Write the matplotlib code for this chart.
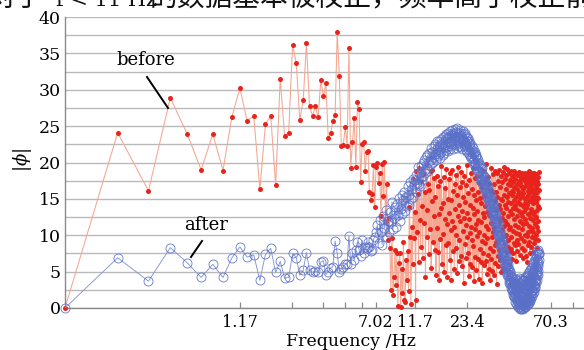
import numpy as np
import matplotlib
matplotlib.use('Agg')
import matplotlib.pyplot as plt
from matplotlib.lines import Line2D

plt.rcParams['mathtext.fontset'] = 'dejavuserif'

# frequency resolution (Hz); samples k = 1..512
df = 0.11717

# ---- |phi| before correction ----
before_1_60 = [0, 24.1, 16.1, 28.9, 23.9, 19.0, 23.9, 18.9, 26.3, 30.2,
               25.7, 26.4, 16.3, 25.3, 26.4, 16.9, 31.5, 23.7, 24.1, 36.1,
               33.7, 25.8, 28.6, 36.4, 27.7, 26.4, 27.7, 26.2, 31.3, 29.1,
               30.9, 23.3, 24.0, 25.7, 26.5, 37.9, 31.9, 22.2, 22.4, 24.9,
               22.3, 35.7, 19.3, 22.8, 26.1, 19.4, 28.3, 27.3, 17.3, 22.6,
               22.8, 18.8, 21.5, 21.6, 16.0, 14.8, 15.7, 19.6, 13.9, 19.4]
before_61_72 = [20.0, 17.2, 18.5, 12.6, 19.8, 15.4, 20.1, 11.8, 17.0, 9.3, 12.4, 8.3]
before_73_97 = [2.5, 9.6, 1.8, 4.3, 8.0, 3.1, 7.5, 0.3, 6.2, 7.5,
                0.1, 5.4, 2.0, 9.1, 1.1, 0.8, 6.6, 3.9, 7.9, 2.4,
                13.9, 9.8, 0.5, 11.2, 6.0]
before_98_130 = [17.8, 9.6, 13.2, 1.1, 18.9, 10.4, 15.7, 6.3, 19.2, 12.1, 8.4, 17.5, 14.0,
                 6.9, 18.4, 11.7, 15.9, 4.2, 19.6, 9.8, 13.5, 17.1, 7.4,
                 16.2, 10.9, 18.8, 5.5, 14.7, 19.0, 9.1, 12.6, 17.9, 8.0]
before_131_200 = [15.3, 4.6, 18.2, 11.0, 7.7, 16.8, 12.9, 3.8, 17.4, 9.5,
                  13.8, 19.5, 6.1, 14.4, 10.2, 18.0, 5.0, 12.3, 16.5, 8.7,
                  19.1, 11.6, 4.2, 15.0, 9.0, 17.7, 13.1, 6.6, 18.6, 10.7,
                  3.9, 14.9, 12.0, 19.0, 7.9, 16.1, 11.2, 5.3, 17.0, 13.6,
                  8.2, 18.3, 10.0, 15.6, 4.8, 12.7, 19.4, 9.3, 14.1, 6.4,
                  16.6, 11.9, 18.7, 7.2, 13.3, 5.8, 17.3, 10.6, 15.2, 3.5,
                  12.4, 18.1, 8.8, 14.6, 6.9, 16.9, 11.4, 19.7, 9.7, 13.0]
before_201_350 = [7.5, 15.8, 12.2, 4.4, 17.6, 10.3, 14.2, 6.0, 18.5, 11.1,
                  9.4, 16.4, 5.6, 13.7, 19.2, 8.5, 12.9, 3.7, 15.5, 10.8,
                  17.9, 7.0, 14.8, 11.5, 5.2, 18.2, 9.9, 13.4, 6.7, 16.0,
                  12.1, 4.0, 17.2, 10.4, 15.1, 8.1, 19.1, 11.8, 6.3, 14.5,
                  9.2, 16.7, 3.4, 13.0, 18.8, 7.6, 12.5, 5.9, 15.4, 10.1,
                  17.5, 8.9, 14.0, 6.5, 19.8, 11.3, 4.7, 16.3, 9.6, 13.2,
                  7.3, 18.0, 10.9, 15.7, 5.4, 12.8, 17.1, 8.3, 14.3, 3.9,
                  11.7, 16.2, 6.8, 19.3, 9.8, 13.9, 5.1, 15.9, 10.5, 18.4,
                  7.9, 12.6, 4.5, 17.0, 11.0, 14.7, 8.6, 18.9, 6.2, 13.5,
                  16.0, 9.1, 3.3, 15.3, 12.2, 18.6, 7.1, 11.6, 17.4, 5.8,
                  14.1, 10.2, 19.0, 8.0, 13.6, 6.6, 16.6, 11.9, 4.9, 15.0,
                  9.5, 18.1, 12.4, 7.4, 17.3, 10.7, 14.9, 5.5, 18.7, 13.1,
                  8.8, 15.6, 11.3, 19.4, 6.9, 14.2, 9.9, 17.7, 12.0, 7.7,
                  16.4, 10.0, 18.3, 13.8, 5.3, 15.2, 11.5, 19.1, 8.4, 14.6,
                  17.0, 9.3, 12.7, 6.0, 18.5, 10.8, 15.8, 7.8, 13.3, 16.9]
before_351_512 = [11.2, 17.6, 8.1, 14.4, 18.8, 9.7, 16.1, 12.9, 6.8, 15.5,
                  18.2, 10.6, 13.7, 17.3, 7.6, 15.9, 12.3, 18.9, 9.0, 14.8,
                  16.7, 11.4, 18.4, 8.6, 14.1, 17.8, 10.3, 15.2, 6.5, 13.6,
                  18.6, 9.4, 16.4, 12.7, 17.1, 7.9, 14.6, 18.3, 11.1, 15.7,
                  8.8, 17.5, 13.3, 16.0, 10.2, 18.7, 12.0, 15.1, 7.3, 17.2,
                  14.3, 11.8, 18.1, 9.6, 16.8, 13.0, 17.9, 8.3, 15.4, 12.6,
                  18.5, 10.9, 16.3, 6.9, 14.0, 17.7, 11.5, 15.8, 9.2, 18.0,
                  13.4, 16.6, 8.0, 17.4, 12.2, 15.0, 10.0, 18.6, 14.5, 7.1,
                  16.9, 11.7, 18.2, 13.8, 9.9, 17.0, 15.3, 6.3, 14.2, 18.4,
                  10.5, 16.1, 12.9, 17.6, 8.7, 15.6, 18.8, 11.3, 14.7, 16.5,
                  9.1, 18.3, 13.1, 15.9, 7.5, 17.3, 12.4, 16.7, 10.7, 18.1,
                  14.9, 8.4, 17.8, 13.6, 16.2, 11.0, 18.5, 9.8, 15.2, 17.1,
                  12.1, 16.4, 7.7, 18.0, 14.4, 10.4, 17.5, 13.2, 15.7, 8.9,
                  18.6, 12.8, 16.0, 9.5, 17.2, 14.8, 11.6, 18.2, 6.8, 15.3,
                  17.9, 10.1, 14.6, 16.8, 12.5, 18.4, 8.2, 15.9, 13.5, 17.4,
                  11.2, 16.3, 9.3, 18.0, 14.0, 12.0, 17.0, 15.1, 10.6, 18.7,
                  13.8, 16.2]

# ---- |phi| after correction ----
after_1_60 = [0, 6.9, 3.7, 8.3, 6.2, 4.2, 6.0, 4.2, 6.9, 8.4,
              7.0, 7.3, 3.8, 7.4, 8.2, 4.9, 6.4, 4.1, 4.2, 7.5,
              6.9, 4.5, 5.2, 7.6, 5.2, 4.9, 5.1, 4.9, 6.3, 6.5,
              4.6, 5.0, 5.5, 5.7, 9.2, 7.5, 5.0, 5.4, 5.7, 6.0,
              6.1, 9.9, 6.1, 7.5, 6.6, 8.0, 9.1, 8.0, 7.2, 9.3,
              7.5, 8.4, 8.2, 9.1, 8.4, 7.8, 8.0, 9.4, 9.8, 10.4]
after_61_200 = [11.4, 9.0, 12.1, 10.5, 8.7, 12.6, 11.0, 13.5, 9.8, 12.0,
                10.5, 13.2, 11.8, 14.6, 10.9, 12.4, 13.9, 11.2, 14.3, 12.8,
                15.1, 12.0, 13.6, 15.5, 12.9, 14.8, 16.0, 13.4, 15.2, 14.0,
                16.8, 14.2, 15.6, 17.3, 15.0, 16.4, 17.8, 15.3, 16.9, 17.6,
                16.0, 18.3, 17.2, 19.4, 17.0, 18.6, 16.8, 19.5, 18.0, 17.6,
                19.9, 18.2, 20.3, 19.0, 18.6, 20.8, 19.3, 21.0, 18.8, 20.2,
                21.3, 19.6, 20.4, 22.0, 19.9, 21.5, 20.1, 22.3, 20.7, 21.2,
                22.5, 20.4, 21.8, 22.9, 20.9, 21.4, 23.0, 21.1, 22.2, 20.6,
                23.2, 21.5, 22.6, 21.0, 23.5, 22.0, 21.3, 23.7, 22.4, 21.7,
                23.9, 22.1, 23.3, 21.6, 24.1, 22.8, 23.5, 21.9, 24.3, 22.6,
                23.8, 22.2, 24.5, 23.0, 21.9, 24.0, 23.4, 22.5, 24.6, 23.1,
                22.4, 24.2, 23.6, 22.0, 24.8, 23.3, 22.7, 24.1, 23.0, 22.3,
                24.4, 23.5, 22.1, 24.0, 22.9, 23.7, 21.9, 24.3, 23.2, 22.5,
                23.9, 22.2, 24.1, 22.8, 21.7, 23.6, 22.4, 23.3, 21.5, 22.9]
after_201_370 = [23.4, 21.8, 22.6, 21.2, 23.0, 22.1, 20.9, 22.7, 21.4, 20.6,
                 22.3, 20.8, 21.7, 20.2, 22.0, 21.1, 19.8, 21.5, 20.5, 19.9,
                 21.4, 19.7, 20.9, 19.2, 21.0, 20.0, 18.8, 20.6, 19.5, 18.9,
                 20.4, 18.7, 19.9, 18.1, 19.6, 18.9, 17.6, 19.3, 18.2, 17.8,
                 19.2, 17.5, 18.6, 16.9, 18.3, 17.7, 16.4, 18.0, 17.1, 16.6,
                 18.0, 16.3, 17.4, 15.8, 17.2, 16.5, 15.3, 16.9, 15.9, 15.5,
                 16.8, 15.0, 16.2, 14.6, 16.0, 15.3, 14.1, 15.8, 14.7, 14.3,
                 15.6, 13.9, 14.9, 13.3, 14.8, 14.0, 12.8, 14.5, 13.4, 13.0,
                 14.3, 12.6, 13.7, 12.0, 13.5, 12.8, 11.5, 13.1, 12.1, 11.8,
                 12.9, 11.2, 12.3, 10.6, 12.0, 11.3, 10.1, 11.7, 10.5, 10.2,
                 11.5, 9.7, 10.8, 9.1, 10.6, 9.9, 8.6, 10.2, 9.0, 8.8,
                 10.0, 8.3, 9.4, 7.6, 9.2, 8.5, 7.1, 8.8, 7.5, 7.3,
                 8.6, 6.8, 7.9, 6.2, 7.7, 7.0, 5.7, 7.3, 6.3, 5.9,
                 7.2, 5.6, 6.6, 4.9, 6.4, 5.8, 4.5, 6.0, 5.1, 4.7,
                 6.1, 4.4, 5.5, 3.8, 5.3, 4.7, 3.4, 5.0, 4.0, 3.6,
                 5.0, 3.3, 4.4, 2.7, 4.3, 3.6, 2.4, 4.1, 3.0, 2.6,
                 4.2, 2.3, 3.5, 1.8, 3.4, 2.7, 1.5, 3.2, 2.1, 1.7]
after_371_512 = [3.6, 1.5, 2.9, 0.8, 4.0, 1.9, 0.7, 3.2, 1.4, 2.4,
                 3.5, 0.9, 2.6, 0.4, 3.9, 1.3, 0.2, 3.0, 0.9, 2.1,
                 3.6, 0.5, 2.4, 0.1, 4.1, 1.2, -0.1, 2.9, 0.6, 1.8,
                 3.4, 0.3, 2.2, 0.0, 4.0, 0.8, -0.2, 2.7, 0.5, 1.6,
                 3.7, 0.4, 2.3, -0.1, 3.8, 0.7, 0.0, 2.8, 0.4, 1.9,
                 3.9, 0.5, 2.5, 0.1, 4.2, 0.9, 0.2, 3.1, 0.6, 2.0,
                 4.2, 0.7, 2.8, 0.3, 4.4, 1.2, 0.4, 3.4, 0.9, 2.3,
                 4.5, 1.0, 3.1, 0.6, 4.8, 1.5, 0.7, 3.8, 1.3, 2.6,
                 5.0, 1.4, 3.5, 0.9, 5.2, 2.0, 1.1, 4.3, 1.8, 3.0,
                 5.5, 1.9, 3.9, 1.4, 5.7, 2.5, 1.6, 4.8, 2.3, 3.5,
                 6.0, 2.5, 4.4, 2.0, 6.2, 3.1, 2.2, 5.3, 3.0, 4.1,
                 6.5, 3.2, 5.0, 2.7, 6.8, 3.8, 2.9, 5.9, 3.7, 4.7,
                 7.1, 4.0, 5.6, 3.5, 7.4, 4.7, 3.8, 6.6, 4.6, 5.4,
                 7.8, 5.0, 6.3, 4.6, 8.0, 5.8, 5.1, 7.4, 6.0, 6.6,
                 7.4, 7.6]

tick_freqs = [1.17, 2.34, 3.51, 4.68, 5.85, 7.02, 11.7, 23.4, 70.3, 93.7]
tick_labels = ['1.17', '', '', '', '', '7.02', '11.7', '23.4', '70.3', '']
y_ticks = [0, 5, 10, 15, 20, 25, 30, 35, 40]

before = np.array(before_1_60 + before_61_72 + before_73_97 + before_98_130
                  + before_131_200 + before_201_350 + before_351_512)
after = np.array(after_1_60 + after_61_200 + after_201_370 + after_371_512)
n = min(len(before), len(after))
before = before[:n]
after = after[:n]
freq = np.arange(1, n + 1) * df

W, H = 584, 350
fig = plt.figure(figsize=(W / 100, H / 100), dpi=100)
ax = fig.add_axes([65 / W, 42 / H, 1 - 65 / W, 291 / H])

# before (red)
ax.plot(freq, before, '-', color='#f5a690', lw=0.75, zorder=2)
ax.plot(freq, before, 'o', ms=3.6, mfc='#e8231c', mec='#e8231c', mew=0,
        zorder=3, clip_on=False)
# after (blue)
ax.plot(freq, after, '-', color='#8594d6', lw=0.65, zorder=4)
ax.plot(freq, after, 'o', ms=6.5, mfc='none', mec='#5a70c8', mew=0.55,
        zorder=5, clip_on=False)

ax.set_xscale('log')
ax.set_xlim(df, df * 927)
ax.set_ylim(0, 40)

ax.set_xticks(tick_freqs)
ax.set_xticklabels(tick_labels)
ax.xaxis.set_minor_locator(matplotlib.ticker.NullLocator())
ax.set_yticks(y_ticks)
ax.set_yticks(np.arange(0, 40.1, 2.5), minor=True)
ax.yaxis.grid(True, which='both', color='#b9b9b9', lw=1.0, zorder=0)
ax.set_axisbelow(True)

for lab in ax.get_xticklabels():
    lab.set_fontfamily('DejaVu Serif')
    lab.set_fontsize(11.5)
for lab in ax.get_yticklabels():
    lab.set_fontfamily('DejaVu Serif')
    lab.set_fontsize(12.5)
ax.tick_params(axis='x', direction='in', length=4, width=0.9, color='#8a8a8a', pad=4)
ax.tick_params(axis='y', which='both', length=0, pad=3)

for s in ['top', 'right']:
    ax.spines[s].set_visible(False)
for s in ['left', 'bottom']:
    ax.spines[s].set_color('#8a8a8a')
    ax.spines[s].set_linewidth(1.0)

# axis labels
fig.text(351 / W, 1 - 341 / H, 'Frequency /Hz', ha='center', va='center',
         fontsize=12.5, family='DejaVu Serif')
fig.text(22 / W, 1 - 160 / H, r'$|\phi|$', ha='center', va='center',
         rotation=90, fontsize=13)

# annotations
fig.text(146 / W, 1 - 60 / H, 'before', ha='center', va='center',
         fontsize=13, family='DejaVu Serif')
fig.add_artist(Line2D([147 / W, 168 / W], [1 - 77 / H, 1 - 108 / H],
                      transform=fig.transFigure, color='black', lw=1.4))
fig.text(206 / W, 1 - 225 / H, 'after', ha='center', va='center',
         fontsize=13, family='DejaVu Serif')
fig.add_artist(Line2D([202 / W, 191 / W], [1 - 241 / H, 1 - 257 / H],
                      transform=fig.transFigure, color='black', lw=1.4))

# cut-off caption text at top
cjk = ['Noto Sans CJK SC', 'DejaVu Sans']
fig.text(-12 / W, 1 - 6 / H, '对于', ha='left', va='baseline',
         fontsize=20, family=cjk, color='#111111')
fig.text(56 / W, 1 - 6 / H, 'f < 11 Hz', ha='left', va='baseline',
         fontsize=15, family='DejaVu Serif', color='#111111')
fig.text(150 / W, 1 - 6 / H, '的数据基本被校正，频率高于校正前', ha='left',
         va='baseline', fontsize=20, family=cjk, color='#111111')

fig.savefig('out.png', dpi=100)
